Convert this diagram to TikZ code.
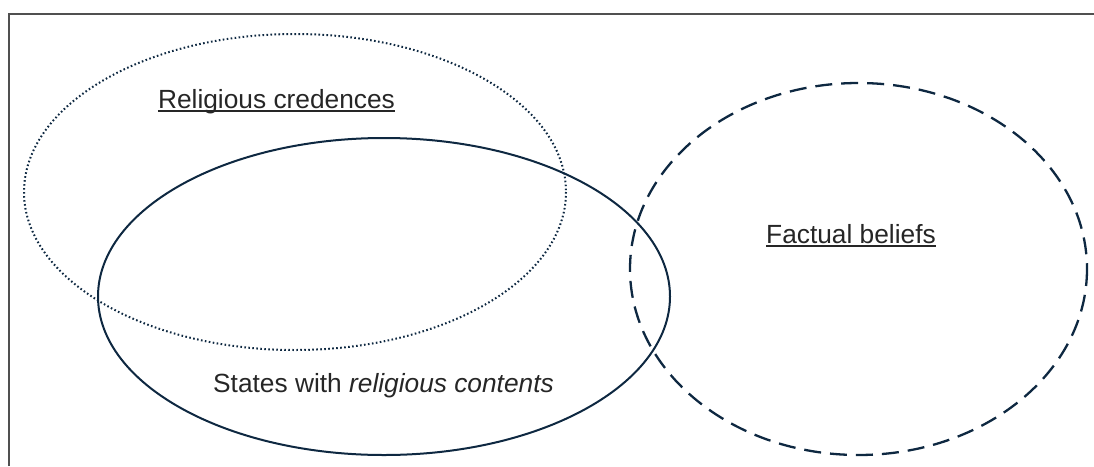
\documentclass[tikz,border=0pt]{standalone}
\usepackage{fontspec}
\setmainfont{Liberation Sans}
\definecolor{navy}{HTML}{0E2841}
\definecolor{framegray}{HTML}{505050}
\begin{document}
\begin{tikzpicture}[x=1pt,y=-1pt,
  lbl/.style={font=\fontsize{26.3}{31}\selectfont, text=black!85, inner sep=0pt, anchor=base},
  ell/.style={draw=navy}]
\useasboundingbox (0,0) rectangle (1094,466);
% frame
\draw[framegray, line width=1.3pt] (9,466) -- (9,14) -- (1094,14);
% ellipses
\draw[ell, line width=2pt, dash pattern=on 1.6pt off 2.4pt] (295,192) ellipse [x radius=271, y radius=158];
\draw[ell, line width=2pt] (384,296.5) ellipse [x radius=286, y radius=158.5];
\draw[ell, line width=2.3pt, dash pattern=on 17pt off 9pt] (858.5,269) ellipse [x radius=228.5, y radius=186];
% labels
\node[lbl] (rc) at (276.5,108) {Religious credences};
\draw[black!85, line width=1.1pt] ([yshift=-3pt]rc.base west) -- ([yshift=-3pt]rc.base east);
\node[lbl] (fb) at (851,243) {Factual beliefs};
\draw[black!85, line width=1.1pt] ([yshift=-3pt]fb.base west) -- ([yshift=-3pt]fb.base east);
\node[lbl] (sw) at (383.5,392) {States with \textit{religious contents}};
\end{tikzpicture}
\end{document}
